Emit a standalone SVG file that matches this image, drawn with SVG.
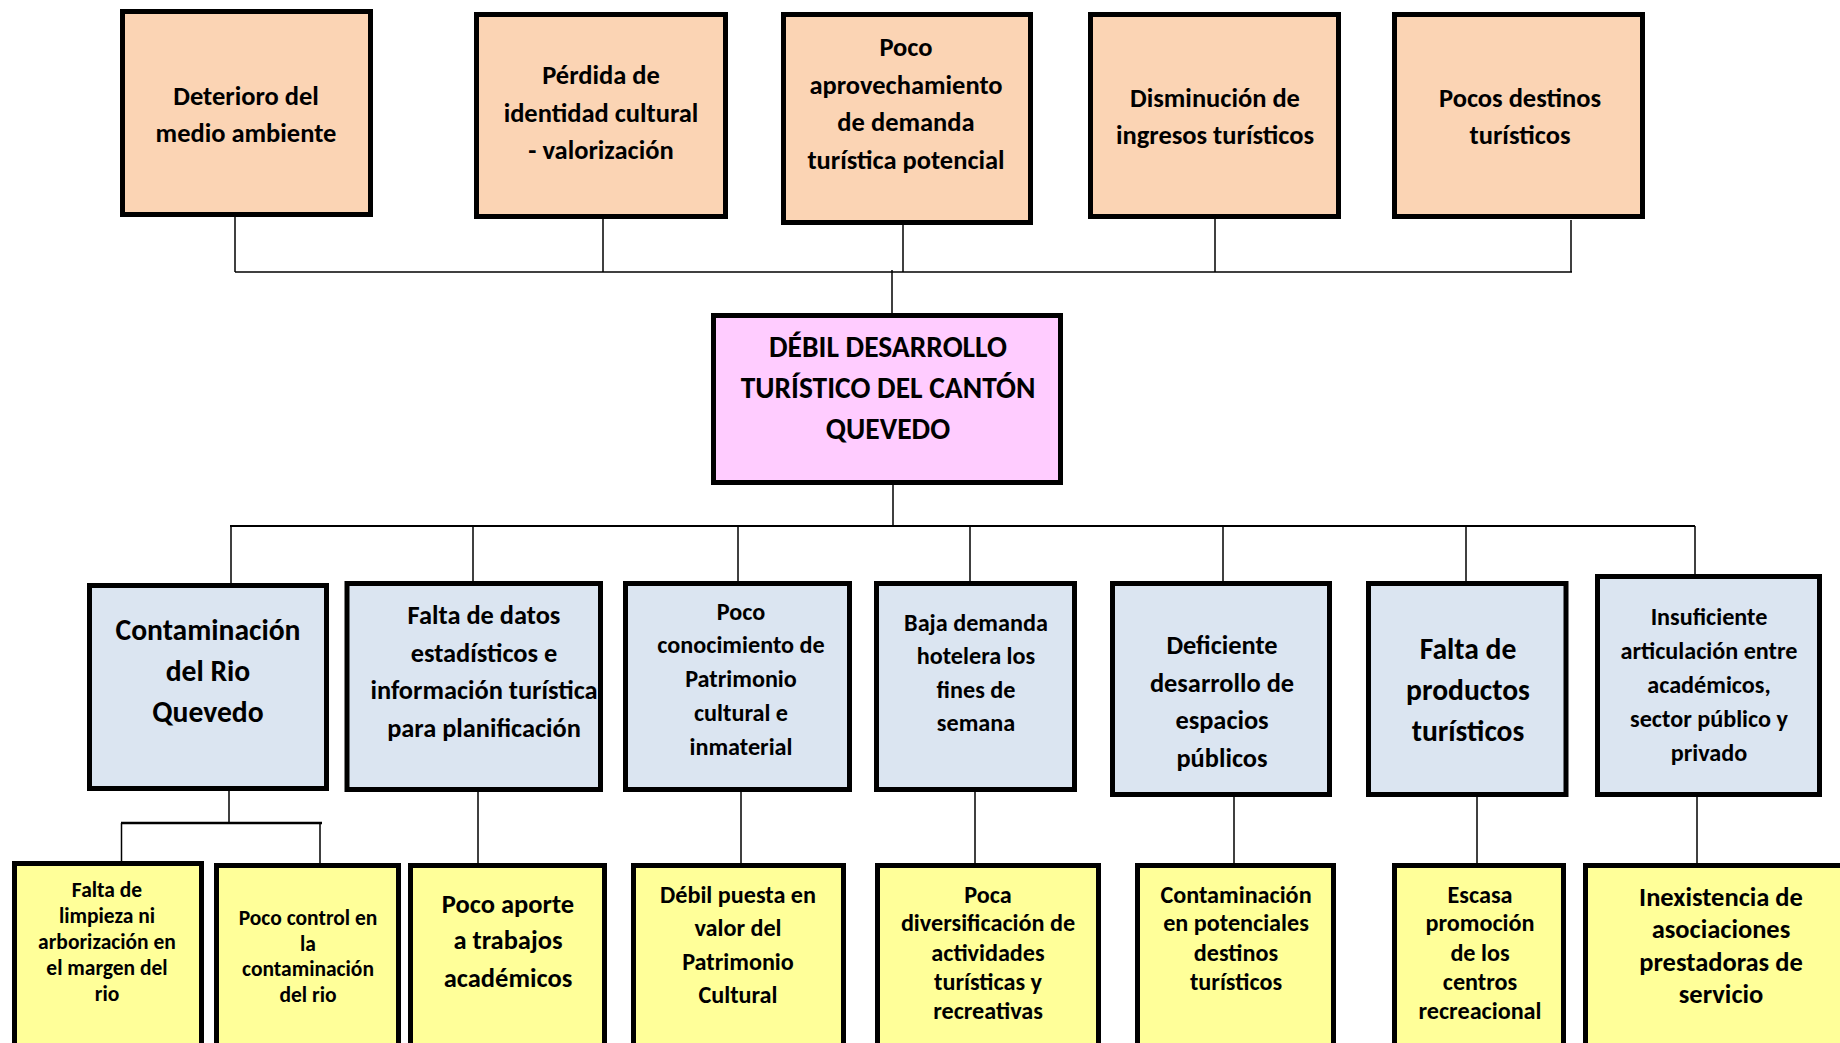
<svg xmlns="http://www.w3.org/2000/svg" width="1840" height="1043" viewBox="0 0 1840 1043">
<style>
.box{stroke:#000;stroke-width:5}
.peach{fill:#FBD4B4}
.pink{fill:#FFCCFF}
.blue{fill:#DBE5F1}
.yellow{fill:#FFFF99}
text{font-family:"Carlito","Liberation Sans Narrow","Liberation Sans",sans-serif;font-weight:bold;fill:#000;text-anchor:middle;dominant-baseline:central}
.top{font-size:26.5px}
.main{font-size:29.5px}
.big{font-size:29.6px}
.mid{font-size:26.4px}
.sm{font-size:24.2px}
.xs{font-size:21.5px}
.c line{stroke:#000;stroke-width:1.5;fill:none}
</style>
<rect width="1840" height="1043" fill="#fff"/>
<g class="c" id="connectors">
<line x1="235" y1="217" x2="235" y2="272"/>
<line x1="603" y1="219" x2="603" y2="272"/>
<line x1="903" y1="225" x2="903" y2="272"/>
<line x1="1215" y1="219" x2="1215" y2="272"/>
<line x1="1571" y1="220" x2="1571" y2="272"/>
<line x1="235" y1="272" x2="1572" y2="272"/>
<line x1="892" y1="270" x2="892" y2="313"/>
<line x1="893" y1="485" x2="893" y2="526"/>
<line x1="230" y1="526" x2="1695" y2="526" style="stroke-width:2"/>
<line x1="231" y1="526" x2="231" y2="583"/>
<line x1="473" y1="526" x2="473" y2="581"/>
<line x1="738" y1="526" x2="738" y2="581"/>
<line x1="970" y1="526" x2="970" y2="581"/>
<line x1="1223" y1="526" x2="1223" y2="581"/>
<line x1="1466" y1="526" x2="1466" y2="581"/>
<line x1="1695" y1="526" x2="1695" y2="574"/>
<line x1="229" y1="791" x2="229" y2="823"/>
<line x1="121" y1="823" x2="322" y2="823" style="stroke-width:2.5"/>
<line x1="121.5" y1="823" x2="121.5" y2="861"/>
<line x1="320" y1="823" x2="320" y2="863"/>
<line x1="478" y1="792" x2="478" y2="863"/>
<line x1="741" y1="792" x2="741" y2="863"/>
<line x1="975" y1="792" x2="975" y2="863"/>
<line x1="1234" y1="797" x2="1234" y2="863"/>
<line x1="1477" y1="797" x2="1477" y2="863"/>
<line x1="1697" y1="797" x2="1697" y2="863"/>
</g>
<g id="efecto1"><rect class="box peach" x="122.5" y="11.5" width="248" height="203"/>
<text class="top" x="246" y="96">Deterioro del</text><text class="top" x="246" y="133">medio ambiente</text></g>
<g id="efecto2"><rect class="box peach" x="476.5" y="14.5" width="249" height="202"/>
<text class="top" x="601" y="75">Pérdida de</text><text class="top" x="601" y="112.5">identidad cultural</text><text class="top" x="601" y="150">- valorización</text></g>
<g id="efecto3"><rect class="box peach" x="783.5" y="14.5" width="247" height="208"/>
<text class="top" x="906" y="47">Poco</text><text class="top" x="906" y="84.5">aprovechamiento</text><text class="top" x="906" y="122">de demanda</text><text class="top" x="906" y="159.5">turística potencial</text></g>
<g id="efecto4"><rect class="box peach" x="1090.5" y="14.5" width="248" height="202"/>
<text class="top" x="1215" y="97.5">Disminución de</text><text class="top" x="1215" y="135">ingresos turísticos</text></g>
<g id="efecto5"><rect class="box peach" x="1394.5" y="14.5" width="248" height="202"/>
<text class="top" x="1520" y="97.5">Pocos destinos</text><text class="top" x="1520" y="135">turísticos</text></g>
<g id="problema"><rect class="box pink" x="713.5" y="315.5" width="347" height="167"/>
<text class="main" x="888" y="346.5">DÉBIL DESARROLLO</text><text class="main" x="888" y="388">TURÍSTICO DEL CANTÓN</text><text class="main" x="888" y="429">QUEVEDO</text></g>
<g id="causa1"><rect class="box blue" x="89.5" y="585.5" width="237" height="203"/>
<text class="big" x="208" y="630">Contaminación</text><text class="big" x="208" y="671">del Rio</text><text class="big" x="208" y="712">Quevedo</text></g>
<g id="causa2"><rect class="box blue" x="347" y="583.5" width="253.5" height="206"/>
<text class="mid" x="484" y="615">Falta de datos</text><text class="mid" x="484" y="652.5">estadísticos e</text><text class="mid" x="484" y="690">información turística</text><text class="mid" x="484" y="727.5">para planificación</text></g>
<g id="causa3"><rect class="box blue" x="625.5" y="583.5" width="224" height="206"/>
<text class="sm" x="741" y="611">Poco</text><text class="sm" x="741" y="644.5">conocimiento de</text><text class="sm" x="741" y="678">Patrimonio</text><text class="sm" x="741" y="712">cultural e</text><text class="sm" x="741" y="746">inmaterial</text></g>
<g id="causa4"><rect class="box blue" x="876.5" y="583.5" width="198" height="206"/>
<text class="sm" x="976" y="622">Baja demanda</text><text class="sm" x="976" y="655.5">hotelera los</text><text class="sm" x="976" y="689">fines de</text><text class="sm" x="976" y="722">semana</text></g>
<g id="causa5"><rect class="box blue" x="1112.5" y="583.5" width="217" height="211"/>
<text class="mid" x="1222" y="644.5">Deficiente</text><text class="mid" x="1222" y="682.5">desarrollo de</text><text class="mid" x="1222" y="720">espacios</text><text class="mid" x="1222" y="758">públicos</text></g>
<g id="causa6"><rect class="box blue" x="1368.5" y="583.5" width="197.5" height="211"/>
<text class="big" x="1468" y="649">Falta de</text><text class="big" x="1468" y="690">productos</text><text class="big" x="1468" y="731">turísticos</text></g>
<g id="causa7"><rect class="box blue" x="1597.5" y="576.5" width="222" height="218"/>
<text class="sm" x="1709" y="616">Insuficiente</text><text class="sm" x="1709" y="650">articulación entre</text><text class="sm" x="1709" y="684">académicos,</text><text class="sm" x="1709" y="718">sector público y</text><text class="sm" x="1709" y="752">privado</text></g>
<g id="sub1"><rect class="box yellow" x="14.5" y="863.5" width="187" height="200"/>
<text class="xs" x="107" y="890">Falta de</text><text class="xs" x="107" y="916">limpieza ni</text><text class="xs" x="107" y="942">arborización en</text><text class="xs" x="107" y="968">el margen del</text><text class="xs" x="107" y="994">rio</text></g>
<g id="sub2"><rect class="box yellow" x="216.5" y="865.5" width="182" height="200"/>
<text class="xs" x="308" y="918">Poco control en</text><text class="xs" x="308" y="943.5">la</text><text class="xs" x="308" y="969">contaminación</text><text class="xs" x="308" y="995">del rio</text></g>
<g id="sub3"><rect class="box yellow" x="410.5" y="865.5" width="194" height="200"/>
<text class="top" x="508" y="903.5">Poco aporte</text><text class="top" x="508" y="940">a trabajos</text><text class="top" x="508" y="977.5">académicos</text></g>
<g id="sub4"><rect class="box yellow" x="633.5" y="865.5" width="210" height="200"/>
<text class="sm" x="738" y="894">Débil puesta en</text><text class="sm" x="738" y="927.5">valor del</text><text class="sm" x="738" y="961">Patrimonio</text><text class="sm" x="738" y="994">Cultural</text></g>
<g id="sub5"><rect class="box yellow" x="877.5" y="865.5" width="221" height="200"/>
<text class="sm" x="988" y="894">Poca</text><text class="sm" x="988" y="922.5">diversificación de</text><text class="sm" x="988" y="952">actividades</text><text class="sm" x="988" y="981">turísticas y</text><text class="sm" x="988" y="1010">recreativas</text></g>
<g id="sub6"><rect class="box yellow" x="1137.5" y="865.5" width="196" height="200"/>
<text class="sm" x="1236" y="894">Contaminación</text><text class="sm" x="1236" y="922.5">en potenciales</text><text class="sm" x="1236" y="952">destinos</text><text class="sm" x="1236" y="981">turísticos</text></g>
<g id="sub7"><rect class="box yellow" x="1394.5" y="865.5" width="169" height="200"/>
<text class="sm" x="1480" y="894">Escasa</text><text class="sm" x="1480" y="922.5">promoción</text><text class="sm" x="1480" y="952">de los</text><text class="sm" x="1480" y="981">centros</text><text class="sm" x="1480" y="1010">recreacional</text></g>
<g id="sub8"><rect class="box yellow" x="1585.5" y="865.5" width="270" height="200"/>
<text class="top" x="1721" y="896.5">Inexistencia de</text><text class="top" x="1721" y="929">asociaciones</text><text class="top" x="1721" y="962">prestadoras de</text><text class="top" x="1721" y="994">servicio</text></g>
</svg>
